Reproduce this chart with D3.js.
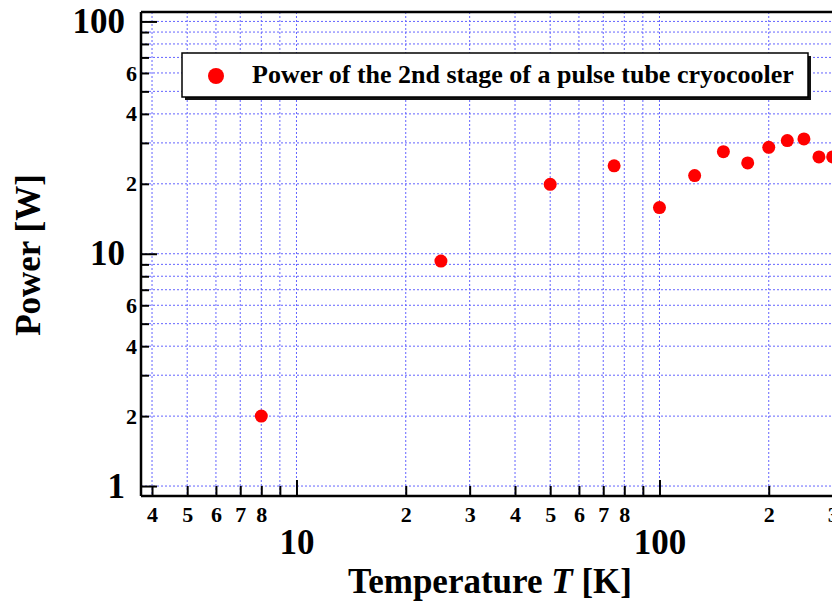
<!DOCTYPE html>
<html>
<head>
<meta charset="utf-8">
<script src="https://cdn.jsdelivr.net/npm/d3@7"></script>
<style>
  html, body { margin: 0; padding: 0; background: #fff; }
  svg { display: block; }
  text { font-family: "Liberation Serif", "Times New Roman", serif; font-weight: bold; fill: #000; }
</style>
</head>
<body>
<svg id="chart" width="832" height="606"></svg>
<script>
// ---- data ----
const temperatures = [8, 25, 50, 75, 100, 125, 150, 175, 200, 225, 250, 275, 300];
const powers = [2.0, 9.3, 19.9, 23.9, 15.8, 21.7, 27.5, 24.6, 28.7, 30.7, 31.2, 26.1, 26.1];
const seriesName = "Power of the 2nd stage of a pulse tube cryocooler";

const xMajorTicks = [10, 100];
const xMinorTicks = [4, 5, 6, 7, 8, 9, 20, 30, 40, 50, 60, 70, 80, 90, 200, 300];
const xMinorLabeled = [4, 5, 6, 7, 8, 20, 30, 40, 50, 60, 70, 80, 200, 300];
const yMajorTicks = [1, 10, 100];
const yMinorTicks = [2, 3, 4, 5, 6, 7, 8, 9, 20, 30, 40, 50, 60, 70, 80, 90];
const yMinorLabeled = [2, 4, 6, 20, 40, 60];

const xTitle = "Temperature ";
const xTitleVar = "T";
const xTitleUnit = " [K]";
const yTitle = "Power [W]";

// ---- layout ----
(function () {
const svg = d3.select("#chart");
const pLeft = 141, pTop = 12, pBottom = 496;
const pxPerDecadeX = 363;
const xDomain = [3.73, 330];
const pRight = pLeft + pxPerDecadeX * Math.log10(xDomain[1] / xDomain[0]);

const x = d3.scaleLog().domain(xDomain).range([pLeft, pRight]);
const y = d3.scaleLog().domain([0.906, 109.8]).range([pBottom, pTop]);

const lead = v => String(Math.round(v / Math.pow(10, Math.floor(Math.log10(v) + 1e-9))));

// grid
const gridColor = "#6464ff";
const allX = xMajorTicks.concat(xMinorTicks);
const allY = yMajorTicks.concat(yMinorTicks);
const grid = svg.append("g");
grid.selectAll("line.gx").data(allX).join("line")
  .attr("x1", d => x(d)).attr("x2", d => x(d))
  .attr("y1", pTop).attr("y2", pBottom)
  .attr("stroke", gridColor).attr("stroke-width", 1).attr("stroke-dasharray", "2,2");
grid.selectAll("line.gy").data(allY).join("line")
  .attr("y1", d => y(d)).attr("y2", d => y(d))
  .attr("x1", pLeft).attr("x2", pRight)
  .attr("stroke", gridColor).attr("stroke-width", 1).attr("stroke-dasharray", "2,2");

function styleAxis(g) {
  g.select(".domain").remove();
  g.selectAll(".tick line").attr("stroke", "#000").attr("stroke-width", 2);
  g.selectAll("text").attr("font-family", "'Liberation Serif', 'Times New Roman', serif")
    .attr("font-weight", "bold").attr("fill", "#000");
}

svg.append("g").attr("transform", `translate(0,${pBottom})`)
  .call(d3.axisBottom(x).tickValues(xMinorTicks).tickSize(-10).tickPadding(10)
    .tickFormat(d => xMinorLabeled.includes(d) ? lead(d) : ""))
  .call(styleAxis)
  .call(g => g.selectAll("text").attr("font-size", 22));
svg.append("g").attr("transform", `translate(0,${pBottom})`)
  .call(d3.axisBottom(x).tickValues(xMajorTicks).tickSize(-16).tickPadding(33)
    .tickFormat(d3.format("d")))
  .call(styleAxis)
  .call(g => g.selectAll("text").attr("font-size", 35));
svg.append("g").attr("transform", `translate(${pLeft},0)`)
  .call(d3.axisLeft(y).tickValues(yMinorTicks).tickSize(-8).tickPadding(4)
    .tickFormat(d => yMinorLabeled.includes(d) ? lead(d) : ""))
  .call(styleAxis)
  .call(g => g.selectAll("text").attr("font-size", 22));
svg.append("g").attr("transform", `translate(${pLeft},0)`)
  .call(d3.axisLeft(y).tickValues(yMajorTicks).tickSize(-16).tickPadding(16)
    .tickFormat(d3.format("d")))
  .call(styleAxis)
  .call(g => g.selectAll("text").attr("font-size", 35));

// frame lines
svg.append("line").attr("x1", pLeft).attr("x2", pRight).attr("y1", pBottom).attr("y2", pBottom)
  .attr("stroke", "#000").attr("stroke-width", 2.5);
svg.append("line").attr("x1", pLeft).attr("x2", pRight).attr("y1", pTop).attr("y2", pTop)
  .attr("stroke", "#000").attr("stroke-width", 2.5);
svg.append("line").attr("x1", pLeft).attr("x2", pLeft).attr("y1", pTop).attr("y2", pBottom)
  .attr("stroke", "#000").attr("stroke-width", 2.5);

// points
svg.append("g").selectAll("circle").data(temperatures.map((t, i) => ({t, p: powers[i]})))
  .join("circle")
  .attr("cx", d => x(d.t)).attr("cy", d => y(d.p)).attr("r", 6.5)
  .attr("fill", "#ff0000");

// legend
const lg = svg.append("g");
lg.append("rect").attr("x", 185).attr("y", 56).attr("width", 626).attr("height", 44).attr("fill", "#111");
lg.append("rect").attr("x", 182).attr("y", 53).attr("width", 626).attr("height", 44)
  .attr("fill", "#fff").attr("stroke", "#000").attr("stroke-width", 1.5);
lg.append("circle").attr("cx", 216).attr("cy", 76).attr("r", 8).attr("fill", "#ff0000");
lg.append("text").attr("x", 252).attr("y", 83).attr("font-size", 26).text(seriesName);

// axis titles
const xt = svg.append("text").attr("x", 490).attr("y", 593).attr("text-anchor", "middle")
  .attr("font-size", 35);
xt.append("tspan").text(xTitle);
xt.append("tspan").attr("font-style", "italic").text(xTitleVar);
xt.append("tspan").text(xTitleUnit);

svg.append("text").attr("transform", "translate(40,255) rotate(-90)")
  .attr("text-anchor", "middle").attr("font-size", 35).text(yTitle);
})();
</script>
</body>
</html>
